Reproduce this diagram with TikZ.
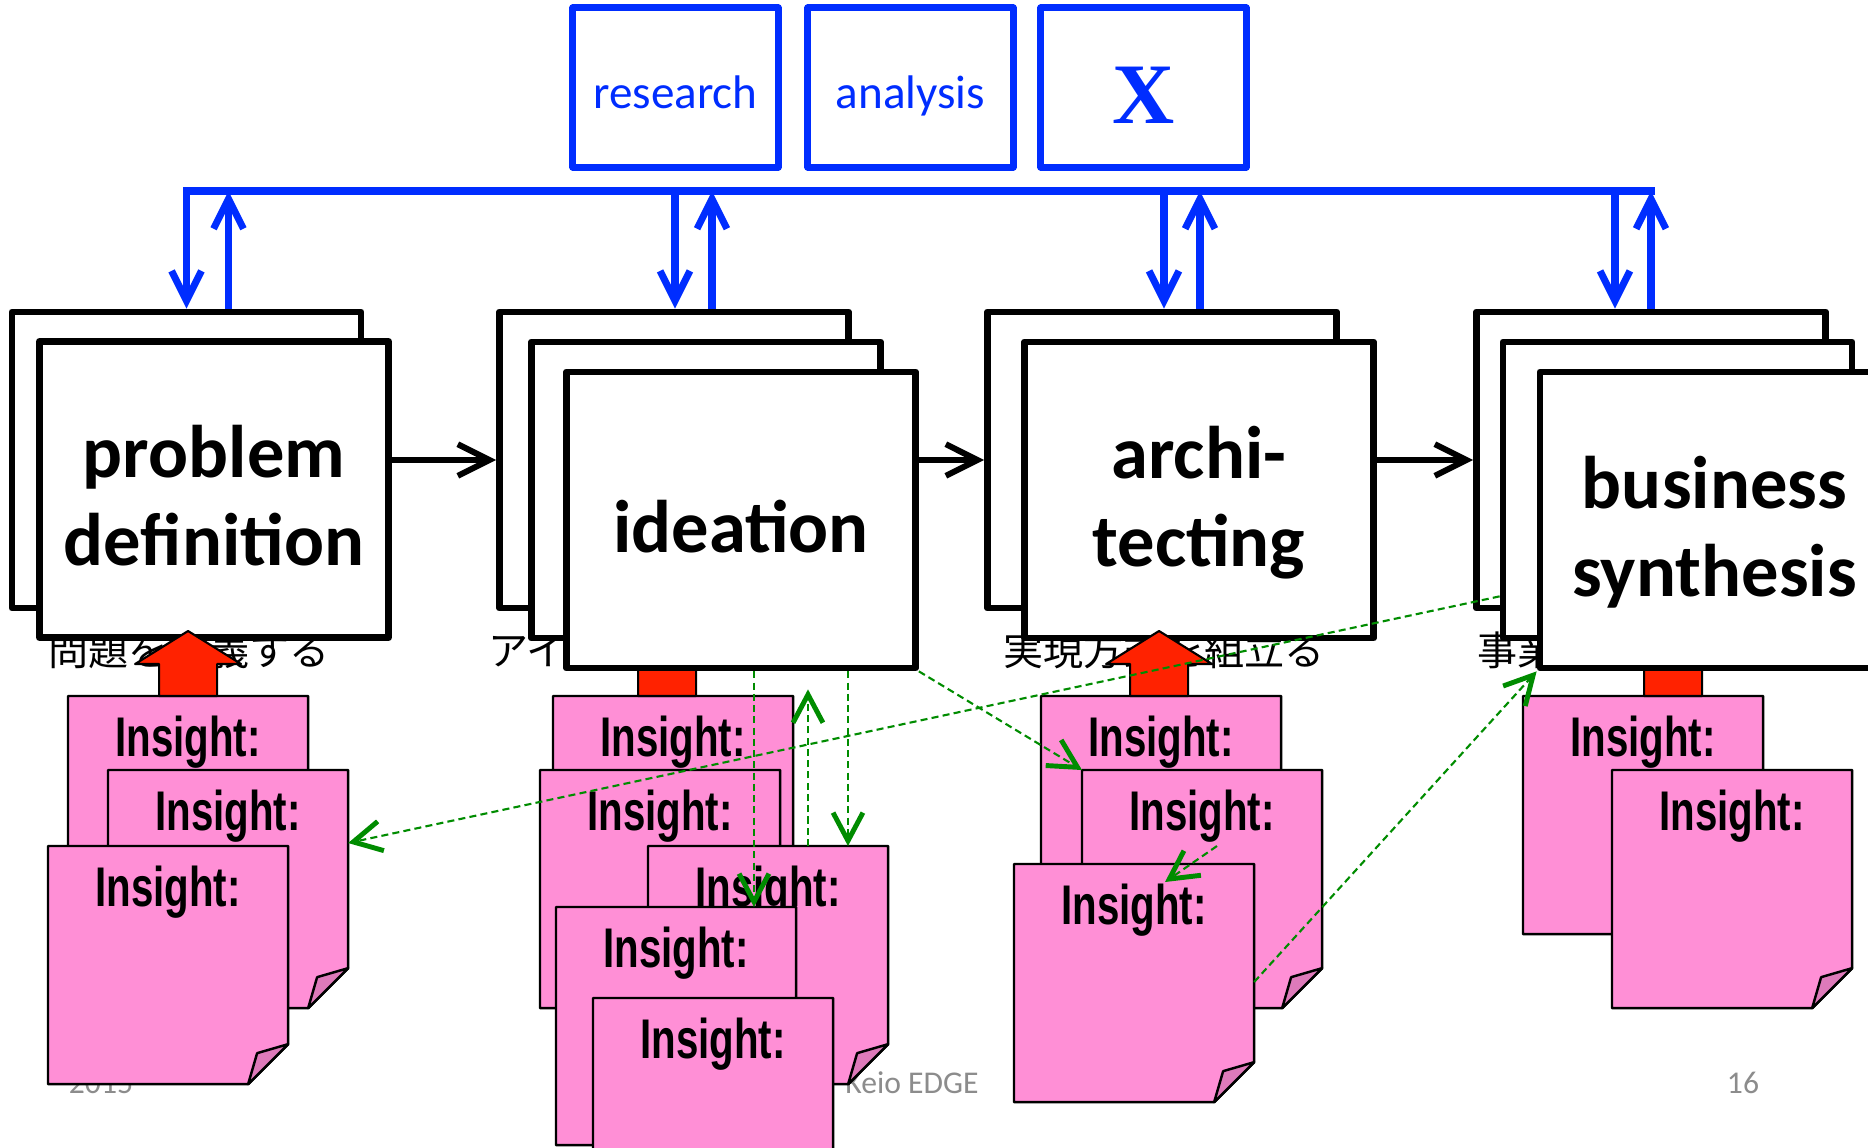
\documentclass[tikz,border=0pt]{standalone}
\usepackage{fontspec}
\setmainfont{Carlito}
\newfontfamily\jpfont{Noto Sans CJK JP}
\newfontfamily\xfont{Liberation Serif}
\newfontfamily\insightfont[FakeStretch=0.72]{Liberation Sans}
\usepackage{tikz}
\usetikzlibrary{calc,arrows.meta}

\definecolor{busblue}{RGB}{0,45,255}
\definecolor{notepink}{RGB}{255,143,214}
\definecolor{foldpink}{RGB}{222,122,186}
\definecolor{arrowred}{RGB}{255,34,0}
\definecolor{linkgreen}{RGB}{0,140,0}
\definecolor{footgray}{RGB}{140,140,140}

% sticky note: name, top left corner
\newcommand\insightnote[2]{%
  \node[notebox] (#1) at (#2) {};
  \filldraw[notepaper] (#1.north west) -- (#1.north east) -- ($(#1.south east)+(0,-40)$)
    -- ($(#1.south east)+(-40,0)$) -- (#1.south west) -- cycle;
  \filldraw[notefold] ($(#1.south east)+(0,-40)$) -- ($(#1.south east)+(-31,-31)$)
    -- ($(#1.south east)+(-40,0)$) -- cycle;
  \node[insight] (#1t) at ($(#1.north)+(0,60)$) {Insight:};
}
% red block arrow standing on a note: note name, x offset
\newcommand\blockup[2]{%
  \filldraw[blockarrow] ($(#1.north)+(#2-29,0)$) -- ++(0,-32) -- ++(-24,0) -- ++(53,-33)
    -- ++(53,33) -- ++(-24,0) -- ++(0,32) -- cycle;
}

\begin{document}
\begin{tikzpicture}[x=0.01cm,y=-0.01cm,line join=round]

  \tikzstyle{phasebox}=[draw=black,fill=white,line width=1.85pt,minimum width=3.49cm,minimum height=2.96cm,inner sep=0pt]
  \tikzstyle{phasetext}=[align=center,inner sep=0pt,text depth=0pt,font=\bfseries\fontsize{21.2}{25}\selectfont]
  \tikzstyle{toolbox}=[draw=busblue,line width=2pt,minimum width=2.05cm,minimum height=1.59cm,inner sep=0pt]
  \tikzstyle{tooltext}=[inner sep=0pt,text depth=0pt,text=busblue,font=\fontsize{13.4}{16}\selectfont]
  \tikzstyle{busline}=[busblue,line width=2pt,line cap=rect]
  \tikzstyle{busarrow}=[busblue,line width=2pt,-{Straight Barb[length=8.5pt,width=8.5pt]}]
  \tikzstyle{jplabel}=[anchor=west,inner sep=0pt,font=\jpfont\fontsize{11.4}{13}\selectfont]
  \tikzstyle{footer}=[anchor=base,inner sep=0pt,text=footgray,font=\fontsize{9}{11}\selectfont]
  \tikzstyle{notebox}=[anchor=north west,minimum width=2.4cm,minimum height=2.38cm,inner sep=0pt,outer sep=0pt]
  \tikzstyle{notepaper}=[draw=black,fill=notepink,line width=0.7pt]
  \tikzstyle{notefold}=[draw=black,fill=foldpink,line width=0.7pt]
  \tikzstyle{insight}=[anchor=base,inner sep=0pt,font=\insightfont\bfseries\fontsize{15.9}{18}\selectfont]
  \tikzstyle{blockarrow}=[draw=black,fill=arrowred,line width=0.6pt]
  \tikzstyle{flow}=[line width=1.7pt,-{Straight Barb[length=9pt,width=9pt]}]
  \tikzstyle{link}=[linkgreen,line width=0.6pt,dash pattern=on 2pt off 1.2pt,-{Straight Barb[length=8pt,width=8.5pt,line width=1.4pt]}]

  \path[use as bounding box,fill=white] (0,0) rectangle (1868,1147);
  \clip (0,0) rectangle (1868,1147);

  \node[footer] (year) at (101,1093)  {2015};
  \node[footer] (org)  at (912,1093)  {Keio EDGE};
  \node[footer] (page) at (1743,1093) {16};

  \node[jplabel] (pdlabel) at (48,650)   {問題を定義する};
  \node[jplabel] (idlabel) at (488,650)  {アイデアを創出する};
  \node[jplabel] (arlabel) at (1003,650) {実現方式を組立る};
  \node[jplabel] (bslabel) at (1477,650) {事業を統合する};

  \node[toolbox] (research) at (675.5,87.5)  {};
  \node[toolbox] (analysis) at (910.5,87.5)  {};
  \node[toolbox] (xbox)     at (1143.5,87.5) {};
  \node[tooltext] (researcht) at ($(research)+(0,5)$) {research};
  \node[tooltext] (analysist) at ($(analysis)+(0,5)$) {analysis};
  \node[tooltext,font=\xfont\bfseries\fontsize{24.5}{28}\selectfont] (xboxt) at ($(xbox)+(0,8)$) {X};

  \node[phasebox] (pdback)   at (186.5,460)  {};
  \node[phasebox] (pd)       at (214,489.5)  {};
  \node[phasetext] (pdt)     at ($(pd)+(0,6)$)   {problem\\definition};
  \node[phasebox] (ideback)  at (674,460)    {};
  \node[phasebox] (idemid)   at (706,490)    {};
  \node[phasebox] (archback) at (1162,460)   {};
  \node[phasebox] (arch)     at (1199,490)   {};
  \node[phasetext] (archt)   at ($(arch)+(0,6)$) {archi-\\tecting};
  \node[phasebox] (bsback)   at (1651,460)   {};
  \node[phasebox] (bsmid)    at (1677.5,490) {};

  \insightnote{s1a}{68,696}
  \insightnote{s1b}{108,770}
  \insightnote{s1c}{48,846}
  \insightnote{s2a}{553,696}
  \insightnote{s2b}{540,770}
  \insightnote{s2c}{648,846}
  \insightnote{s2d}{556,907}
  \insightnote{s2e}{593,998}
  \insightnote{s3a}{1041,696}
  \insightnote{s3b}{1082,770}
  \insightnote{s3c}{1014,864}
  \insightnote{s4a}{1523,696}
  \insightnote{s4b}{1612,770}

  \blockup{s2a}{-6}
  \blockup{s4a}{30}

  \node[phasebox] (ide)   at (741,520)    {};
  \node[phasetext] (idet) at ($(ide)+(0,6)$) {ideation};
  \node[phasebox] (bs)    at (1714.5,520) {};
  \node[phasetext] (bst)  at ($(bs)+(0,6)$)  {business\\synthesis};

  \blockup{s1a}{0}
  \blockup{s3a}{-2}

  % blue bus to the phases
  \coordinate (bus) at (0,191);
  \foreach \b/\dn/\up in {pdback/0/42,ideback/1/38,archback/2/38,bsback/-36/0}{
    \path ($(\b.north)+(\dn,0)$) coordinate (dn\b) ($(\b.north)+(\up,0)$) coordinate (up\b);
    \draw[busarrow] (dn\b |- bus) -- (dn\b);
    \draw[busarrow] (up\b) -- (up\b |- bus);
  }
  \draw[busline] (dnpdback |- bus) -- (upbsback |- bus);

  \path[flow] (pd.east |- ideback.west)    edge (ideback.west)
              (ide.east |- archback.west)  edge (archback.west)
              (arch.east |- bsback.west)   edge (bsback.west);

  \path[link] ($(bsmid.south west)+(0,-45)$)  edge ($(s1b.north east)+(0,73)$)
              (ide.south east)                edge (s3b.north west)
              ($(ide.south)+(13,0)$)          edge ($(s2d.north west)+(198,0)$)
              ($(s2c.north west)+(160,0)$)    edge ($(ide.south)+(67,18)$)
              ($(ide.south)+(107,0)$)         edge ($(s2c.north west)+(200,0)$)
              ($(s3c.north east)+(0,118)$)    edge (bs.south west)
              ($(s3b.north west)+(135,76)$)   edge ($(s3c.north west)+(151,18)$);
\end{tikzpicture}
\end{document}
